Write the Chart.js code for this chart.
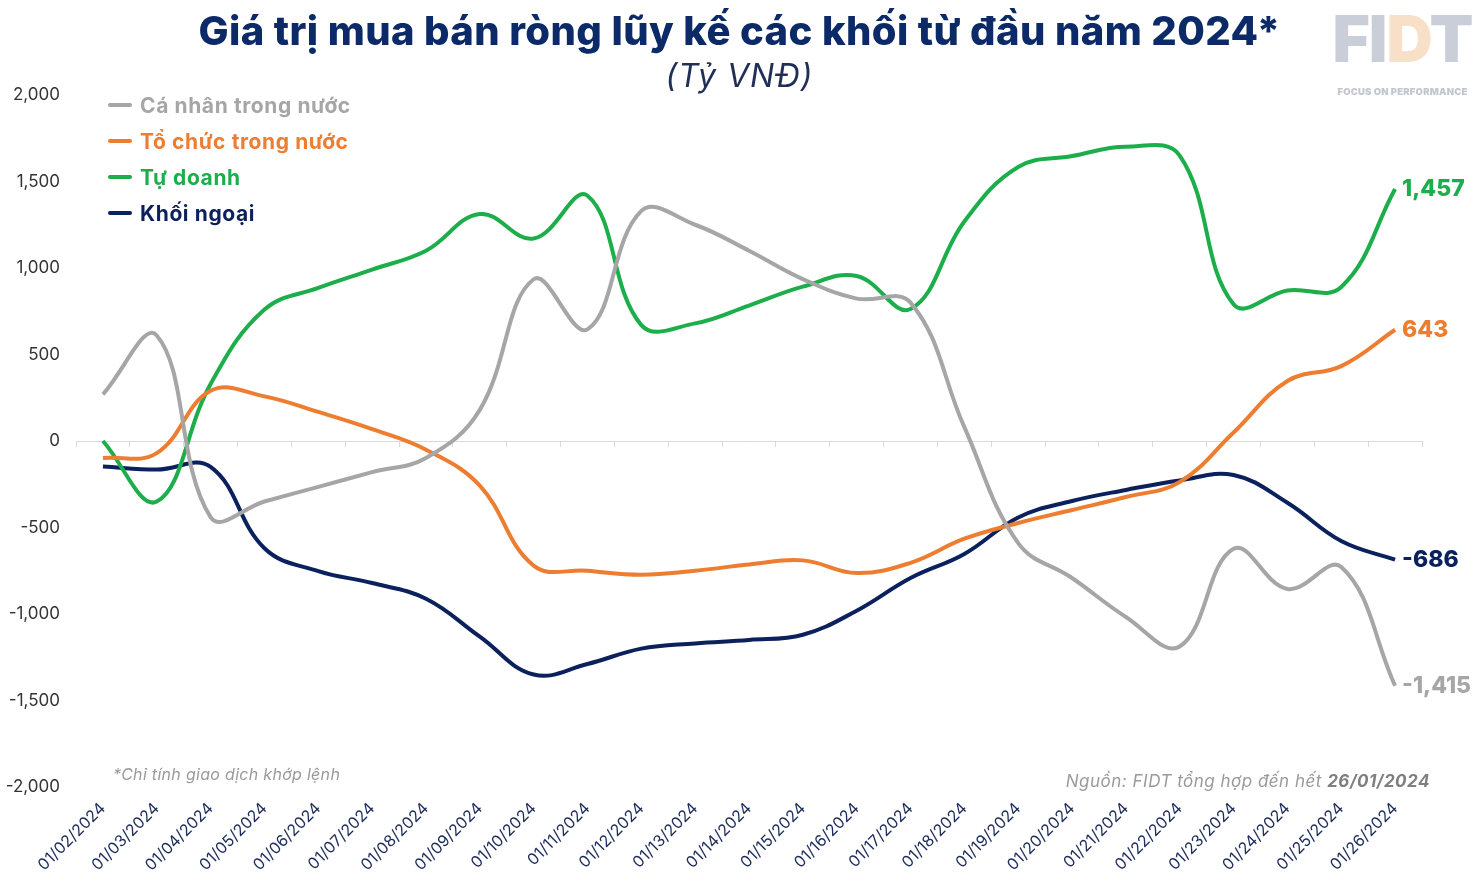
<!DOCTYPE html>
<html lang="vi">
<head>
    <meta charset="UTF-8">
    <title>Giá trị mua bán ròng lũy kế các khối</title>
    <script src="https://cdn.jsdelivr.net/npm/chart.js"></script>
    <style>
        body {
            margin: 0;
            background: #ffffff;
            font-family: Inter, "Open Sans", sans-serif;
        }
        .wrap {
            position: relative;
            width: 1479px;
            height: 881px;
            overflow: hidden;
        }
        canvas { position: absolute; left: 0; top: 0; }
        .title {
            position: absolute;
            left: 0; width: 1479px; top: 6px;
            text-align: center;
            font-size: 40px;
            font-weight: 800;
            letter-spacing: 0.4px;
            color: #0c2a67;
        }
        .subtitle {
            position: absolute;
            left: 0; width: 1479px; top: 56px;
            text-align: center;
            font-size: 32px;
            font-style: italic;
            letter-spacing: 1px;
            color: #1f2f55;
        }
        .logo {
            position: absolute;
            left: 1331px; top: 2px;
            width: 143px;
            text-align: center;
            font-weight: 900;
            font-size: 64px;
            line-height: 74px;
            color: #c9ced8;
            letter-spacing: -1px;
        }
        .logo .d { color: #f8dfc8; }
        .logo small {
            display: block;
            font-size: 9.5px;
            line-height: 12px;
            margin-top: 10px;
            letter-spacing: 0.2px;
            color: #c2c6cf;
        }
        .legend {
            position: absolute;
            left: 108px; top: 87px;
        }
        .legend div {
            height: 36px;
            display: flex;
            align-items: center;
            font-weight: 700;
            font-size: 21px;
            letter-spacing: 0.6px;
        }
        .legend span.mk {
            display: inline-block;
            width: 24px; height: 4px;
            margin-right: 8px;
            border-radius: 2px;
        }
        .note {
            position: absolute;
            left: 113px; top: 764px;
            font-size: 16px;
            font-style: italic;
            letter-spacing: 0.3px;
            color: #9a9a9a;
        }
        .source {
            position: absolute;
            right: 49px; top: 771px;
            font-size: 17px;
            font-style: italic;
            letter-spacing: 0.5px;
            color: #9a9a9a;
        }
        .source b { color: #7f7f7f; }
    </style>
</head>
<body>
<div class="wrap">
    <canvas id="chart" width="1479" height="881"></canvas>
    <div class="title">Giá trị mua bán ròng lũy kế các khối từ đầu năm 2024*</div>
    <div class="subtitle">(Tỷ VNĐ)</div>
    <div class="logo">FI<span class="d">D</span>T<small>FOCUS ON PERFORMANCE</small></div>
    <div class="legend" id="legend"></div>
    <div class="note">*Chỉ tính giao dịch khớp lệnh</div>
    <div class="source">Nguồn: FIDT tổng hợp đến hết <b>26/01/2024</b></div>
</div>

<script>
    // ngay giao dich
    const dates = [
        "01/02/2024", "01/03/2024", "01/04/2024", "01/05/2024", "01/06/2024",
        "01/07/2024", "01/08/2024", "01/09/2024", "01/10/2024", "01/11/2024",
        "01/12/2024", "01/13/2024", "01/14/2024", "01/15/2024", "01/16/2024",
        "01/17/2024", "01/18/2024", "01/19/2024", "01/20/2024", "01/21/2024",
        "01/22/2024", "01/23/2024", "01/24/2024", "01/25/2024", "01/26/2024"
    ];

    const caNhan = [270, 610, -440, -350, -265, -180, -98, 180, 935, 645, 1330, 1250, 1100, 936, 823, 800, 80, -590, -792, -1017, -1188, -623, -855, -728, -1415];
    const toChuc = [-98, -70, 290, 258, 168, 69, -50, -258, -720, -750, -773, -750, -714, -690, -763, -704, -565, -474, -399, -324, -237, 49, 347, 433, 643];
    const tuDoanh = [0, -350, 330, 760, 885, 991, 1100, 1312, 1170, 1418, 670, 680, 783, 892, 954, 763, 1269, 1584, 1647, 1701, 1650, 790, 870, 890, 1457];
    const khoiNgoai = [-148, -165, -150, -620, -752, -821, -912, -1131, -1350, -1289, -1200, -1170, -1150, -1120, -981, -792, -653, -442, -347, -283, -228, -197, -357, -578, -686];

    const yTicks = [-2000, -1500, -1000, -500, 0, 500, 1000, 1500, 2000];

    const series = [
        { name: "Cá nhân trong nước", data: caNhan, color: "#a6a6a6" },
        { name: "Tổ chức trong nước", data: toChuc, color: "#ed7d31" },
        { name: "Tự doanh", data: tuDoanh, color: "#1cae4a" },
        { name: "Khối ngoại", data: khoiNgoai, color: "#0b215e" }
    ];

    // legend html
    const legend = document.getElementById("legend");
    series.forEach(s => {
        legend.innerHTML += `<div style="color:${s.color}"><span class="mk" style="background:${s.color}"></span>${s.name}</div>`;
    });

    const fmt = v => v.toLocaleString("en-US");

    // nhan gia tri cuoi moi duong
    const endLabels = {
        id: "endLabels",
        afterDatasetsDraw(chart) {
            const ctx = chart.ctx;
            ctx.save();
            ctx.font = "800 23px Inter, sans-serif";
            ctx.textBaseline = "middle";
            chart.data.datasets.forEach((ds, i) => {
                const pts = chart.getDatasetMeta(i).data;
                const p = pts[pts.length - 1];
                ctx.fillStyle = ds.borderColor;
                ctx.fillText(fmt(ds.data[ds.data.length - 1]), p.x + 7, p.y);
            });
            ctx.restore();
        }
    };

    new Chart(document.getElementById("chart"), {
        type: "line",
        data: {
            labels: dates,
            datasets: series.map(s => ({
                label: s.name,
                data: s.data,
                borderColor: s.color,
                backgroundColor: s.color,
                borderWidth: 4,
                pointRadius: 0,
                tension: 0.4,
                xAxisID: "x"
            }))
        },
        options: {
            responsive: false,
            animation: false,
            layout: { padding: { top: 95, right: 57, bottom: 0, left: 0 } },
            plugins: {
                legend: { display: false },
                tooltip: { enabled: false }
            },
            scales: {
                x: {
                    type: "category",
                    position: "bottom",
                    offset: true,
                    grid: { display: false },
                    border: { display: false },
                    ticks: {
                        minRotation: 45,
                        maxRotation: 45,
                        autoSkip: false,
                        padding: 4,
                        color: "#1d2c5c",
                        font: { family: "Inter", size: 16 }
                    },
                    afterFit: s => { s.height = 94; }
                },
                x0: {
                    type: "category",
                    axis: "x",
                    labels: dates,
                    position: { y: 0 },
                    offset: true,
                    ticks: { display: false },
                    grid: {
                        offset: true,
                        drawOnChartArea: false,
                        drawTicks: true,
                        tickLength: 5,
                        color: "#d9d9d9"
                    },
                    border: { color: "#d9d9d9", width: 1 }
                },
                y: {
                    min: -2000,
                    max: 2000,
                    afterBuildTicks: s => { s.ticks = yTicks.map(v => ({ value: v })); },
                    grid: { display: false },
                    border: { display: false },
                    ticks: {
                        padding: 8,
                        color: "#333333",
                        font: { family: "Inter", size: 17 },
                        callback: v => fmt(v)
                    },
                    afterFit: s => { s.width = 76; }
                }
            }
        },
        plugins: [endLabels]
    });
</script>
</body>
</html>
